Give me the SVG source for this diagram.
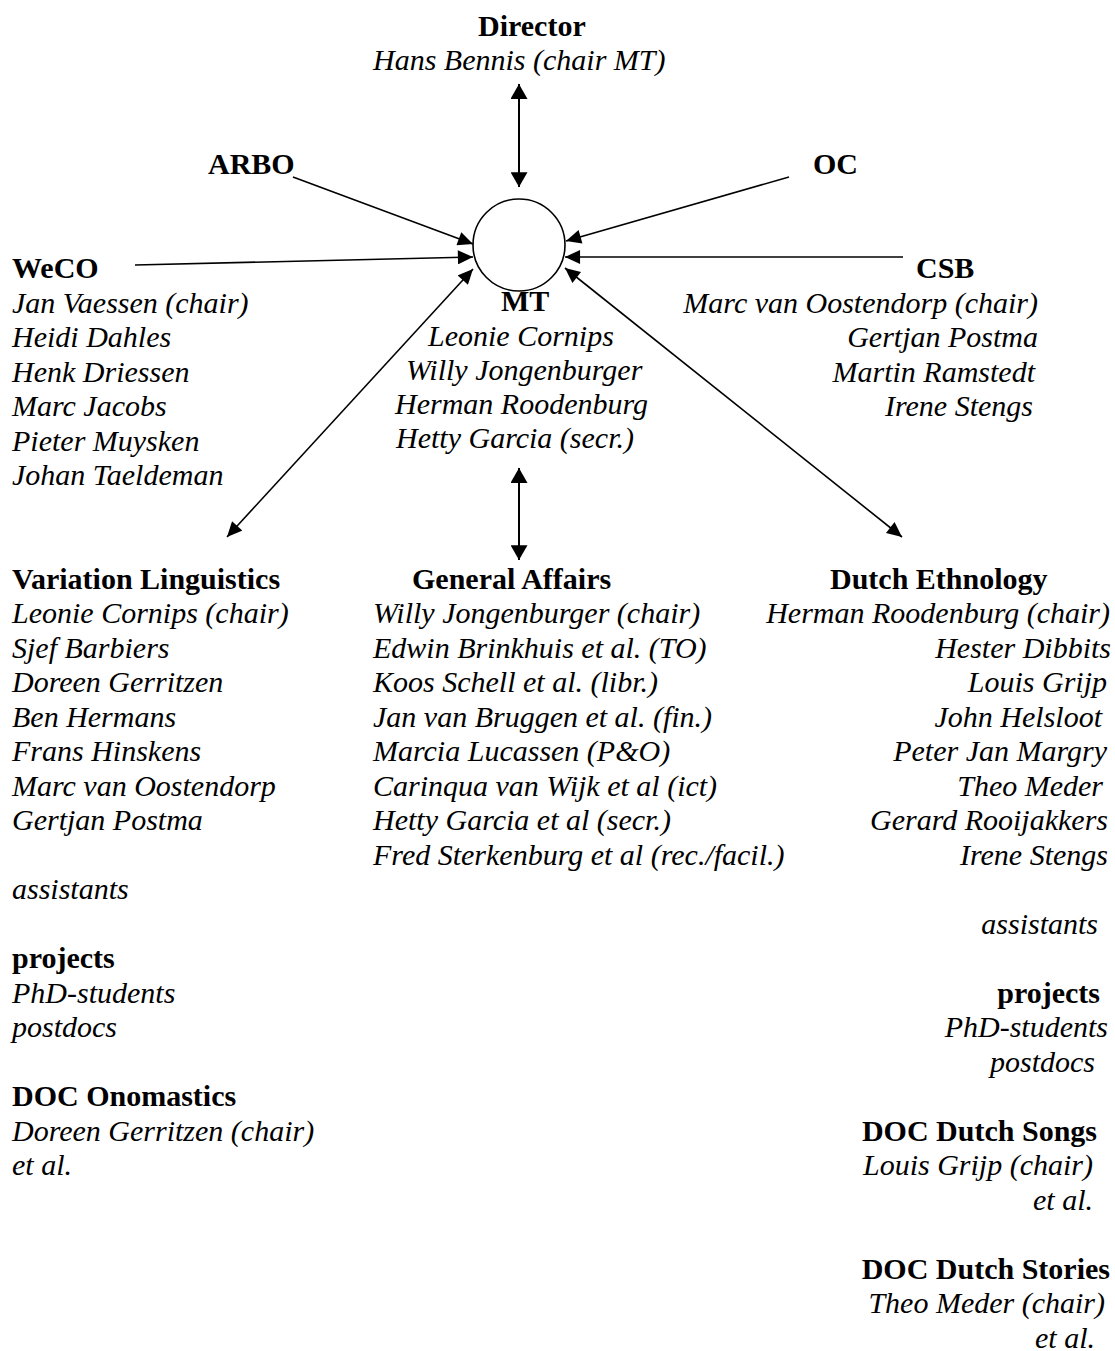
<svg xmlns="http://www.w3.org/2000/svg" width="1115" height="1351" viewBox="0 0 1115 1351">
<defs>
<marker id="ah" markerUnits="userSpaceOnUse" markerWidth="16" markerHeight="14" refX="14" refY="6.5" orient="auto-start-reverse" viewBox="0 0 14 13">
<path d="M0,0 L14,6.5 L0,13 z" fill="#000"/>
</marker>
<marker id="ahv" markerUnits="userSpaceOnUse" markerWidth="16" markerHeight="17" refX="14" refY="8" orient="auto-start-reverse" viewBox="0 0 14 16">
<path d="M0,0 L14,8 L0,16 z" fill="#000"/>
</marker>
<style>
text{font-family:"Liberation Serif","Times New Roman",serif;font-size:30px;fill:#000}
.b{font-weight:bold}
.i{font-style:italic}
.e{text-anchor:end}
.c{stroke:#000;stroke-width:1.6;fill:none}
.v{stroke-width:2}
.one{marker-end:url(#ah)}
.two{marker-start:url(#ah);marker-end:url(#ah)}
.twov{marker-start:url(#ahv);marker-end:url(#ahv)}
</style>
</defs>
<rect width="1115" height="1351" fill="#fff"/>

<g id="connectors">
<line class="c v twov" x1="519" y1="84" x2="519" y2="187"/>
<line class="c one" x1="293" y1="177" x2="473" y2="244"/>
<line class="c one" x1="789" y1="177" x2="566" y2="241"/>
<line class="c one" x1="135" y1="265" x2="473" y2="257"/>
<line class="c one" x1="903" y1="257" x2="565" y2="257"/>
<line class="c two" x1="473" y1="269" x2="227" y2="537"/>
<line class="c two" x1="565" y1="268" x2="902" y2="537"/>
<line class="c v twov" x1="519" y1="468" x2="519" y2="560"/>
</g>

<g id="director">
<text class="b" x="478" y="36">Director</text>
<text class="i" x="373" y="70">Hans Bennis (chair MT)</text>
</g>

<g id="arbo"><text class="b" x="208" y="174">ARBO</text></g>
<g id="oc"><text class="b" x="813" y="174">OC</text></g>

<g id="mt">
<circle cx="519" cy="245" r="46" fill="none" stroke="#000" stroke-width="1.6"/>
<text class="b" x="501" y="311">MT</text>
<text class="i" x="428" y="346">Leonie Cornips</text>
<text class="i" x="406" y="380">Willy Jongenburger</text>
<text class="i" x="395" y="414">Herman Roodenburg</text>
<text class="i" x="396" y="448">Hetty Garcia (secr.)</text>
</g>

<g id="weco">
<text class="b" x="12" y="278">WeCO</text>
<text class="i" x="12" y="312.5">Jan Vaessen (chair)</text>
<text class="i" x="12" y="347">Heidi Dahles</text>
<text class="i" x="12" y="381.5">Henk Driessen</text>
<text class="i" x="12" y="416">Marc Jacobs</text>
<text class="i" x="12" y="450.5">Pieter Muysken</text>
<text class="i" x="12" y="485">Johan Taeldeman</text>
</g>

<g id="csb">
<text class="b" x="916" y="278">CSB</text>
<text class="i e" x="1038" y="312.5">Marc van Oostendorp (chair)</text>
<text class="i e" x="1038" y="347">Gertjan Postma</text>
<text class="i e" x="1035" y="381.5">Martin Ramstedt</text>
<text class="i e" x="1033" y="416">Irene Stengs</text>
</g>

<g id="variation-linguistics">
<text class="b" x="12" y="589">Variation Linguistics</text>
<text class="i" x="12" y="623">Leonie Cornips (chair)</text>
<text class="i" x="12" y="657.5">Sjef Barbiers</text>
<text class="i" x="12" y="692">Doreen Gerritzen</text>
<text class="i" x="12" y="726.5">Ben Hermans</text>
<text class="i" x="12" y="761">Frans Hinskens</text>
<text class="i" x="12" y="795.5">Marc van Oostendorp</text>
<text class="i" x="12" y="830">Gertjan Postma</text>
<text class="i" x="12" y="899">assistants</text>
<text class="b" x="12" y="968">projects</text>
<text class="i" x="12" y="1002.5">PhD-students</text>
<text class="i" x="12" y="1037">postdocs</text>
<text class="b" x="12" y="1106">DOC Onomastics</text>
<text class="i" x="12" y="1140.5">Doreen Gerritzen (chair)</text>
<text class="i" x="12" y="1175">et al.</text>
</g>

<g id="general-affairs">
<text class="b" x="412" y="589">General Affairs</text>
<text class="i" x="373" y="623">Willy Jongenburger (chair)</text>
<text class="i" x="373" y="657.5">Edwin Brinkhuis et al. (TO)</text>
<text class="i" x="373" y="692">Koos Schell et al. (libr.)</text>
<text class="i" x="373" y="726.5">Jan van Bruggen et al. (fin.)</text>
<text class="i" x="373" y="761">Marcia Lucassen (P&amp;O)</text>
<text class="i" x="373" y="795.5">Carinqua van Wijk et al (ict)</text>
<text class="i" x="373" y="830">Hetty Garcia et al (secr.)</text>
<text class="i" x="373" y="864.5">Fred Sterkenburg et al (rec./facil.)</text>
</g>

<g id="dutch-ethnology">
<text class="b" x="830" y="589">Dutch Ethnology</text>
<text class="i e" x="1110" y="623">Herman Roodenburg (chair)</text>
<text class="i e" x="1111" y="657.5">Hester Dibbits</text>
<text class="i e" x="1107" y="692">Louis Grijp</text>
<text class="i e" x="1102" y="726.5">John Helsloot</text>
<text class="i e" x="1107" y="761">Peter Jan Margry</text>
<text class="i e" x="1103" y="795.5">Theo Meder</text>
<text class="i e" x="1108" y="830">Gerard Rooijakkers</text>
<text class="i e" x="1108" y="864.5">Irene Stengs</text>
<text class="i e" x="1098" y="933.5">assistants</text>
<text class="b e" x="1100" y="1002.5">projects</text>
<text class="i e" x="1108" y="1037">PhD-students</text>
<text class="i e" x="1095" y="1071.5">postdocs</text>
<text class="b e" x="1097" y="1140.5">DOC Dutch Songs</text>
<text class="i e" x="1093" y="1175">Louis Grijp (chair)</text>
<text class="i e" x="1093" y="1209.5">et al.</text>
<text class="b e" x="1110" y="1278.5">DOC Dutch Stories</text>
<text class="i e" x="1105" y="1313">Theo Meder (chair)</text>
<text class="i e" x="1095" y="1347.5">et al.</text>
</g>
</svg>
